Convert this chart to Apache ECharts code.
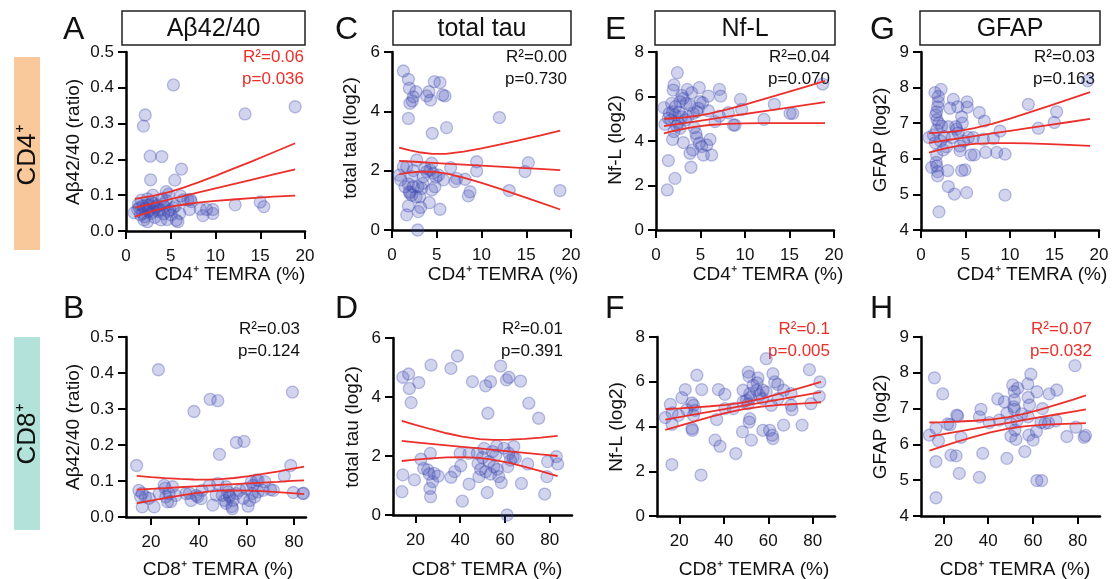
<!DOCTYPE html>
<html><head><meta charset="utf-8">
<script src="https://cdn.jsdelivr.net/npm/echarts@6/dist/echarts.min.js"></script>
<style>html,body{margin:0;padding:0;background:#fff}#c{width:1112px;height:579px}</style>
</head><body><div id="c"></div><script>
// ---------- DATA ----------
const cd4Ticks = [0, 5, 10, 15, 20];
const cd8Ticks = [20, 40, 60, 80];
const titles = ['Aβ42/40', 'total tau', 'Nf-L', 'GFAP'];
const yNames = ['Aβ42/40 (ratio)', 'total tau (log2)', 'Nf-L (log2)', 'GFAP (log2)'];
const xNames = ['CD4⁺ TEMRA (%)', 'CD8⁺ TEMRA (%)'];
const rowLabels = ['CD4⁺', 'CD8⁺'];
const r2Labels = ['R²=0.06', 'R²=0.03', 'R²=0.00', 'R²=0.01', 'R²=0.04', 'R²=0.1', 'R²=0.03', 'R²=0.07'];
const pLabels  = ['p=0.036', 'p=0.124', 'p=0.730', 'p=0.391', 'p=0.070', 'p=0.005', 'p=0.163', 'p=0.032'];

const ptsA = [[5.3,0.408],[2.15,0.324],[1.95,0.293],[13.3,0.327],[18.9,0.347],[2.7,0.209],[4.0,0.208],[2.75,0.143],[5.45,0.142],[6.2,0.173],[3.0,0.100],[4.5,0.110],[4.75,0.103],[6.1,0.098],[7.2,0.088],[7.1,0.060],[8.3,0.061],[8.6,0.043],[9.0,0.060],[9.7,0.060],[9.7,0.049],[12.2,0.073],[15.0,0.081],[15.4,0.068],[6.4,0.087],
[0.9,0.051],[1.3,0.060],[1.5,0.065],[1.7,0.086],[1.85,0.049],[2.0,0.031],[2.2,0.063],[2.3,0.072],[2.4,0.026],[2.5,0.055],[2.6,0.073],[2.8,0.049],[2.9,0.080],[3.1,0.077],[3.3,0.065],[3.5,0.070],[3.7,0.059],[3.9,0.031],[4.1,0.075],[4.3,0.068],[4.5,0.085],[4.7,0.055],[4.9,0.059],[5.05,0.045],[5.3,0.065],[5.8,0.026],[6.0,0.049],[6.9,0.087],[7.3,0.082],[1.6,0.045],[1.9,0.070],[2.1,0.040],[2.4,0.090],[3.2,0.038],[3.6,0.055],[4.2,0.048],[4.6,0.032],[5.6,0.030],[2.7,0.060],[1.4,0.075],[3.0,0.055],[4.0,0.090],[5.5,0.070]];
const ptsB = [[13.94,0.143],[23.1,0.409],[38.0,0.293],[44.8,0.327],[48.0,0.323],[48.7,0.174],[55.8,0.207],[59.0,0.21],[79.3,0.347],[78.6,0.143],[75.9,0.114],
[79.7,0.068],[83.7,0.065],[71.3,0.074],[67.7,0.098],[64.9,0.102],[62.8,0.088],[62.4,0.065],[61.4,0.046],[60.7,0.030],[64.9,0.070],[55.8,0.065],[54.4,0.046],[54.1,0.023],[53.0,0.056],[52.3,0.070],[51.5,0.084],[50.8,0.046],[49.9,0.060],[48.0,0.093],[45.9,0.033],[44.5,0.088],[41.4,0.074],[41.0,0.051],[38.9,0.060],[36.8,0.046],[34.6,0.065],[29.0,0.084],[27.6,0.065],[26.2,0.056],[26.9,0.042],[25.5,0.088],[23.4,0.065],[21.3,0.028],[17.7,0.056],[16.3,0.028],[15.6,0.056],[14.9,0.074],[30.4,0.060],[57.2,0.074],[60.0,0.079],[63.5,0.056],[67.0,0.074],[70.1,0.076],[16.3,0.066],[19.2,0.052],[25.9,0.080],[28.3,0.043],[36.1,0.066],[39.6,0.056],[47.3,0.061],[51.5,0.038],[52.8,0.061],[53.9,0.029],[58.6,0.052],[62.1,0.098],[64.2,0.103],[83.9,0.066]];
const ptsC = [[1.27,5.36],[1.83,5.08],[1.94,4.78],[2.68,4.66],[2.38,4.49],[2.27,4.35],[2.0,4.27],[1.83,3.76],[4.73,5.0],[5.36,4.97],[4.13,4.66],[3.87,4.52],[4.31,4.38],[5.66,4.55],[5.92,4.52],[4.5,3.26],[6.1,3.45],[12.0,3.79],[9.46,2.30],[15.23,2.27],[14.86,1.97],[9.46,1.99],[18.77,1.33],[13.1,1.33],[8.72,1.29],[8.53,1.15],[7.04,1.63],[7.23,1.74],[8.16,1.71],[6.55,2.10],[5.74,1.69],[5.36,0.70],[4.17,0.92],[2.94,0.62],[1.83,0.81],[1.64,0.51],[2.87,0.0],[3.2,0.76],[0.82,1.85],[0.97,1.69],[1.64,2.13],[1.83,1.55],[2.0,1.24],[2.2,1.18],[2.7,1.12],[2.9,1.46],[3.1,1.12],[3.3,1.40],[2.76,2.36],[3.69,2.08],[4.43,2.25],[4.6,1.91],[4.9,1.78],[5.2,1.85],[4.43,1.35],[4.8,1.46],[2.38,2.0],[2.2,1.8],[3.5,1.8],[3.87,1.97],[4.25,2.02],[1.27,2.13],[1.45,1.46],[2.38,1.46],[3.43,1.57],[1.94,1.29]];
const ptsD = [[14.4,4.67],[17.0,4.78],[17.3,4.29],[18.1,3.81],[21.5,4.49],[27.0,5.08],[35.9,4.97],[38.8,5.39],[45.5,4.52],[51.4,4.38],[53.6,4.52],[52.4,3.45],[58.1,5.05],[60.7,4.58],[61.8,4.67],[67.0,4.54],[70.7,3.79],[75.1,3.28],[14.4,1.36],[14.0,0.79],[19.6,1.19],[22.5,1.89],[23.7,1.58],[25.5,1.53],[26.2,1.39],[26.5,0.90],[26.8,0.62],[27.7,1.13],[26.7,2.09],[28.4,1.41],[30.2,1.32],[35.9,1.28],[37.6,1.47],[40.3,1.67],[40.0,2.09],[41.0,0.47],[44.0,1.05],[44.0,2.09],[47.7,2.09],[48.0,1.75],[48.4,1.30],[49.2,1.55],[50.7,2.26],[51.4,1.47],[52.1,0.76],[52.9,1.81],[53.6,1.39],[55.1,1.64],[55.9,2.03],[56.3,2.34],[56.6,1.55],[57.3,1.30],[58.4,1.10],[59.6,2.26],[61.3,1.64],[61.8,2.09],[62.5,1.86],[63.7,1.95],[64.0,2.32],[64.7,1.92],[61.0,0.0],[67.4,1.07],[70.2,1.73],[77.8,0.71],[78.8,1.30],[79.1,1.81],[83.0,1.98],[83.6,1.73],[50.0,1.95],[54.5,2.15]];
const ptsE = [[2.4,7.07],[2.02,6.52],[1.93,6.29],[3.52,6.32],[4.0,6.17],[4.87,6.40],[5.88,6.02],[7.12,6.32],[7.27,6.02],[9.5,5.87],[13.3,5.65],[15.06,5.24],[15.36,5.24],[18.73,6.56],[12.13,4.97],[9.63,5.42],[8.88,4.72],[8.7,4.72],[8.13,5.27],[7.12,5.12],[6.63,4.87],[5.88,5.36],[4.94,5.77],[5.24,5.72],[4.76,5.47],[4.57,5.32],[4.19,5.24],[3.82,5.62],[3.37,5.69],[3.07,5.92],[2.7,5.77],[0.9,5.5],[1.76,5.69],[1.87,5.32],[2.13,5.17],[1.39,5.02],[1.65,4.94],[2.5,4.82],[2.7,4.57],[2.02,4.42],[1.87,4.07],[3.07,3.93],[2.32,4.67],[2.88,5.09],[1.0,4.75],[4.49,4.34],[4.57,4.16],[4.87,3.9],[5.13,3.75],[5.32,3.37],[4.12,3.6],[3.82,3.45],[6.07,4.07],[6.25,3.37],[5.7,3.82],[3.93,2.82],[1.39,3.12],[2.13,2.32],[1.27,1.8],[2.2,5.55],[3.3,4.95],[1.5,5.25],[2.6,5.3],[3.6,5.1],[4.3,4.6],[2.9,6.05]];
const ptsF = [[59.1,7.03],[78.5,6.54],[27.9,6.29],[51.0,6.43],[51.4,6.24],[55.4,6.17],[62.1,6.36],[62.9,5.99],[64.3,5.88],[83.2,5.99],[22.7,5.65],[30.1,5.65],[37.6,5.65],[40.5,5.44],[48.7,5.62],[53.2,5.84],[54.7,5.62],[57.6,5.62],[59.1,5.54],[66.9,5.62],[70.3,5.47],[21.2,5.29],[16.0,4.99],[16.8,4.61],[13.75,4.40],[16.8,4.10],[19.7,4.50],[23.4,4.75],[25.7,5.05],[26.4,4.95],[27.1,4.72],[26.4,4.50],[25.7,3.91],[25.9,3.83],[36.8,4.31],[40.5,4.80],[44.3,4.80],[48.7,5.10],[50.2,5.17],[51.0,5.02],[51.7,4.35],[51.4,4.20],[57.4,5.24],[61.4,4.95],[64.3,5.24],[70.3,4.95],[70.7,4.75],[79.2,5.02],[82.9,5.35],[36.1,3.39],[38.3,3.12],[48.4,3.76],[52.4,3.39],[57.6,3.83],[60.6,3.83],[61.8,3.61],[62.1,3.46],[66.9,4.06],[75.2,4.06],[45.4,2.79],[16.7,2.30],[29.8,1.83],[51.7,5.47],[55.0,5.95],[52.0,5.30],[56.0,5.40]];
const ptsG = [[18.73,8.19],[12.06,7.53],[15.24,7.32],[14.97,7.02],[13.18,6.86],[8.88,6.78],[8.13,6.57],[7.12,7.06],[6.55,7.30],[9.44,6.13],[8.5,6.18],[7.27,6.18],[5.99,6.11],[5.62,6.11],[4.94,5.69],[4.57,5.67],[5.13,5.05],[9.44,4.98],[3.75,5.01],[3.07,5.22],[2.02,4.51],[1.76,5.8],[1.87,5.64],[1.2,5.76],[1.87,5.52],[3.0,5.67],[1.76,6.11],[1.57,7.86],[2.25,7.95],[1.95,7.6],[1.87,7.46],[1.76,7.32],[1.65,7.23],[3.63,7.67],[3.26,7.42],[4.12,7.46],[5.18,7.6],[4.57,7.18],[4.64,7.0],[4.0,6.83],[4.19,6.73],[3.07,6.9],[2.32,6.92],[0.9,6.6],[1.39,6.67],[1.76,6.81],[2.62,6.62],[2.88,6.34],[2.5,6.25],[4.38,6.36],[4.38,6.23],[5.32,6.6],[5.88,6.6],[7.0,6.55],[1.95,7.75],[1.8,7.1],[5.2,7.45],[3.5,6.6],[2.2,6.5],[1.6,6.45],[4.8,6.5],[3.9,6.9],[2.0,7.0],[1.7,5.9]];
const ptsH = [[78.8,8.20],[16.0,7.86],[19.7,7.41],[59.1,7.96],[51.0,7.66],[57.7,7.69],[61.8,7.47],[67.3,7.41],[70.7,7.52],[53.2,7.57],[51.7,7.47],[44.3,7.27],[47.3,7.19],[51.7,7.24],[57.9,7.31],[64.3,7.00],[51.7,6.98],[48.4,6.87],[36.8,6.98],[36.1,6.77],[26.4,6.79],[21.9,6.57],[16.7,6.45],[13.75,6.26],[17.8,6.10],[27.9,6.20],[40.5,6.61],[45.0,6.68],[50.2,6.59],[52.9,6.66],[57.9,6.77],[63.6,6.61],[65.4,6.59],[70.3,6.66],[50.2,6.23],[52.4,6.14],[58.2,6.26],[60.1,6.12],[61.6,6.36],[75.2,6.22],[79.2,6.48],[82.9,6.20],[23.4,5.70],[25.7,5.68],[37.6,5.75],[48.4,5.61],[56.4,5.80],[16.7,5.52],[27.1,5.19],[36.1,5.08],[61.8,4.99],[63.9,4.99],[16.7,4.51],[26.0,6.82],[23.0,6.55],[51.5,7.05],[58.5,7.10],[55.0,6.85],[67.0,6.60],[83.5,6.25],[52.0,6.40]];

// fitted regression line and its 95% band: [x, lower, fit, upper]
const fitA = [[1,0.040,0.065,0.090],[2,0.048,0.071,0.094],[3,0.056,0.077,0.098],[4,0.062,0.083,0.104],[5,0.068,0.089,0.110],[6.5,0.074,0.098,0.122],[8,0.079,0.107,0.135],[10,0.084,0.119,0.154],[12,0.088,0.131,0.174],[14,0.092,0.143,0.194],[16.5,0.096,0.158,0.220],[18.9,0.099,0.172,0.245]];
const fitB = [[14,0.0380,0.0760,0.1140],[20,0.0455,0.0782,0.1109],[26,0.0527,0.0804,0.1081],[32,0.0595,0.0827,0.1059],[38,0.0656,0.0849,0.1042],[44,0.0704,0.0871,0.1038],[49,0.0730,0.0890,0.1050],[55,0.0741,0.0912,0.1083],[61,0.0735,0.0934,0.1133],[67,0.0717,0.0956,0.1195],[73,0.0693,0.0978,0.1263],[79,0.0665,0.1001,0.1337],[84.2,0.0638,0.1020,0.1402]];
const fitC = [[0.8,1.881,2.330,2.779],[2,1.933,2.309,2.685],[3,1.963,2.292,2.621],[4.5,1.966,2.266,2.566],[6,1.911,2.240,2.569],[8,1.769,2.205,2.641],[10,1.590,2.171,2.752],[12,1.394,2.136,2.878],[14.3,1.160,2.096,3.032],[16.5,0.932,2.058,3.184],[18.8,0.691,2.019,3.347]];
const fitD = [[13.9,1.830,2.510,3.190],[20,1.875,2.465,3.055],[27,1.921,2.414,2.907],[34,1.955,2.363,2.771],[41,1.965,2.312,2.659],[48.7,1.935,2.255,2.575],[55,1.871,2.209,2.547],[62,1.764,2.158,2.552],[69,1.633,2.107,2.581],[76,1.486,2.055,2.624],[83.6,1.318,2.000,2.682]];
const fitE = [[0.9,4.340,4.670,5.000],[2,4.450,4.736,5.022],[3,4.539,4.795,5.051],[4.5,4.647,4.885,5.123],[6,4.719,4.975,5.231],[8,4.768,5.094,5.420],[10,4.790,5.213,5.636],[12,4.800,5.333,5.866],[14.5,4.803,5.482,6.161],[16.5,4.802,5.602,6.402],[19,4.799,5.751,6.703]];
const fitF = [[13.75,3.847,4.310,4.773],[20,4.030,4.420,4.810],[27,4.231,4.543,4.855],[34,4.427,4.666,4.905],[41,4.609,4.789,4.969],[49,4.780,4.930,5.080],[57,4.890,5.070,5.250],[64,4.954,5.193,5.432],[71,5.004,5.316,5.628],[78,5.049,5.439,5.829],[83.7,5.084,5.540,5.996]];
const fitG = [[0.9,6.176,6.450,6.724],[2,6.249,6.491,6.733],[3,6.308,6.528,6.748],[4.5,6.376,6.583,6.790],[6,6.419,6.639,6.859],[8,6.442,6.713,6.984],[10,6.443,6.787,7.131],[12,6.432,6.861,7.290],[14.5,6.411,6.953,7.495],[16.5,6.392,7.027,7.662],[19,6.365,7.120,7.875]];
const fitH = [[13.75,5.828,6.220,6.612],[20,5.953,6.288,6.623],[27,6.089,6.364,6.639],[34,6.219,6.440,6.661],[41,6.337,6.516,6.695],[49,6.443,6.603,6.763],[57,6.511,6.690,6.869],[64,6.545,6.766,6.987],[71,6.567,6.842,7.117],[78,6.583,6.918,7.253],[83.7,6.593,6.980,7.367]];

// ---------- LAYOUT ----------
const FONT = 'Liberation Sans, Arial, sans-serif';
const RED = '#EC2F2A';
const panels = [
  {pts:ptsA, fit:fitA, g:[126,52,179,179], xr:[0,20], xt:cd4Ticks, yr:[0,0.5,0.1], dec:1, col:0, row:0, si:0, sig:true,  letter:'A', lx:63, yn:[74,142], xn:[230,275], sx:304},
  {pts:ptsB, fit:fitB, g:[126,337,180,180], xr:[9.5,85], xt:cd8Ticks, yr:[0,0.5,0.1], dec:1, col:0, row:1, si:1, sig:false, letter:'B', lx:63, yn:[74,427], xn:[218,570], sx:300},
  {pts:ptsC, fit:fitC, g:[392,52,179,178], xr:[0,20], xt:cd4Ticks, yr:[0,6,2], dec:0, col:1, row:0, si:2, sig:false, letter:'C', lx:335, yn:[351,138], xn:[503,275], sx:567},
  {pts:ptsD, fit:fitD, g:[393,338,179,177], xr:[10,90], xt:cd8Ticks, yr:[0,6,2], dec:0, col:1, row:1, si:3, sig:false, letter:'D', lx:335, yn:[353,427], xn:[487,570], sx:563},
  {pts:ptsE, fit:fitE, g:[656,52,178,178], xr:[0,20], xt:cd4Ticks, yr:[0,8,2], dec:0, col:2, row:0, si:4, sig:false, letter:'E', lx:605, yn:[616,140], xn:[768,275], sx:830},
  {pts:ptsF, fit:fitF, g:[657,337,178,179], xr:[10,90], xt:cd8Ticks, yr:[0,8,2], dec:0, col:2, row:1, si:5, sig:true,  letter:'F', lx:605, yn:[617,427], xn:[754,570], sx:830},
  {pts:ptsG, fit:fitG, g:[921,52,178,178], xr:[0,20], xt:cd4Ticks, yr:[4,9,1], dec:0, col:3, row:0, si:6, sig:false, letter:'G', lx:870, yn:[881,140], xn:[1032,275], sx:1095},
  {pts:ptsH, fit:fitH, g:[921,337,179,179], xr:[10,90], xt:cd8Ticks, yr:[4,9,1], dec:0, col:3, row:1, si:7, sig:true,  letter:'H', lx:870, yn:[881,427], xn:[1015,570], sx:1092}
];
const boxes = [[122,11,183,34],[393,11,178,34],[655,11,180,34],[920,11,180,34]];

const grid = [], xAxis = [], yAxis = [], series = [], graphic = [];
const axisLine = {show:true, lineStyle:{color:'#000', width:2.5}};
const axisTick = {show:true, length:8, lineStyle:{color:'#000', width:2}};
const T = (x, y, text, size, fill, align, rot) => ({type:'text', x, y, rotation:rot || 0,
  style:{text, font:size + 'px ' + FONT, fill, textAlign:align, textVerticalAlign:'middle', align, verticalAlign:'middle'}});
panels.forEach((p, i) => {
  grid.push({left:p.g[0], top:p.g[1], width:p.g[2], height:p.g[3], containLabel:false});
  xAxis.push({type:'value', gridIndex:i, min:p.xr[0], max:p.xr[1],
    axisLine, axisTick:Object.assign({customValues:p.xt}, axisTick), splitLine:{show:false},
    axisLabel:{customValues:p.xt, color:'#111', fontSize:17, fontFamily:FONT, margin:17}});
  yAxis.push({type:'value', gridIndex:i, min:p.yr[0], max:p.yr[1], interval:p.yr[2],
    axisLine, axisTick, splitLine:{show:false},
    axisLabel:{color:'#111', fontSize:17, fontFamily:FONT, margin:12, formatter:v => v.toFixed(p.dec)}});
  series.push({type:'scatter', xAxisIndex:i, yAxisIndex:i, data:p.pts, symbolSize:12, z:2,
    itemStyle:{color:'rgba(70,80,180,0.30)', borderColor:'rgba(60,70,175,0.42)', borderWidth:1.3}});
  [1,2,3].forEach(k => series.push({type:'line', xAxisIndex:i, yAxisIndex:i, z:3,
    data:p.fit.map(r => [r[0], r[k]]), showSymbol:false, symbol:'none', smooth:false,
    lineStyle:{color:RED, width:1.8}, silent:true}));
  graphic.push(T(p.lx, p.row===0 ? 30 : 309, p.letter, 32, '#111', 'left'));
  graphic.push(T(p.yn[0], p.yn[1], yNames[p.col], 19, '#111', 'center', Math.PI/2));
  graphic.push(T(p.xn[0], p.xn[1], xNames[p.row], 19, '#111', 'center'));
  const sy = p.row===0 ? [57,79] : [329,351];
  const c = p.sig ? RED : '#111';
  graphic.push(T(p.sx, sy[0], r2Labels[p.si], 17, c, 'right'));
  graphic.push(T(p.sx, sy[1], pLabels[p.si], 17, c, 'right'));
});
boxes.forEach((b, j) => {
  graphic.push({type:'rect', shape:{x:b[0], y:b[1], width:b[2], height:b[3]}, style:{fill:'#fff', stroke:'#222', lineWidth:1.5}});
  graphic.push(T(b[0]+b[2]/2, b[1]+b[3]/2+1, titles[j], 25, '#111', 'center'));
});
graphic.push({type:'rect', shape:{x:14, y:57, width:26, height:193}, style:{fill:'#F9C89B'}});
graphic.push({type:'rect', shape:{x:14, y:337, width:26, height:193}, style:{fill:'#B3E2DA'}});
graphic.push(T(28, 155, rowLabels[0], 26, '#111', 'center', Math.PI/2));
graphic.push(T(28, 434, rowLabels[1], 26, '#111', 'center', Math.PI/2));

const chart = echarts.init(document.getElementById('c'), null, {renderer:'canvas'});
chart.setOption({animation:false, backgroundColor:'#fff', textStyle:{fontFamily:FONT}, grid, xAxis, yAxis, series, graphic});
</script></body></html>
